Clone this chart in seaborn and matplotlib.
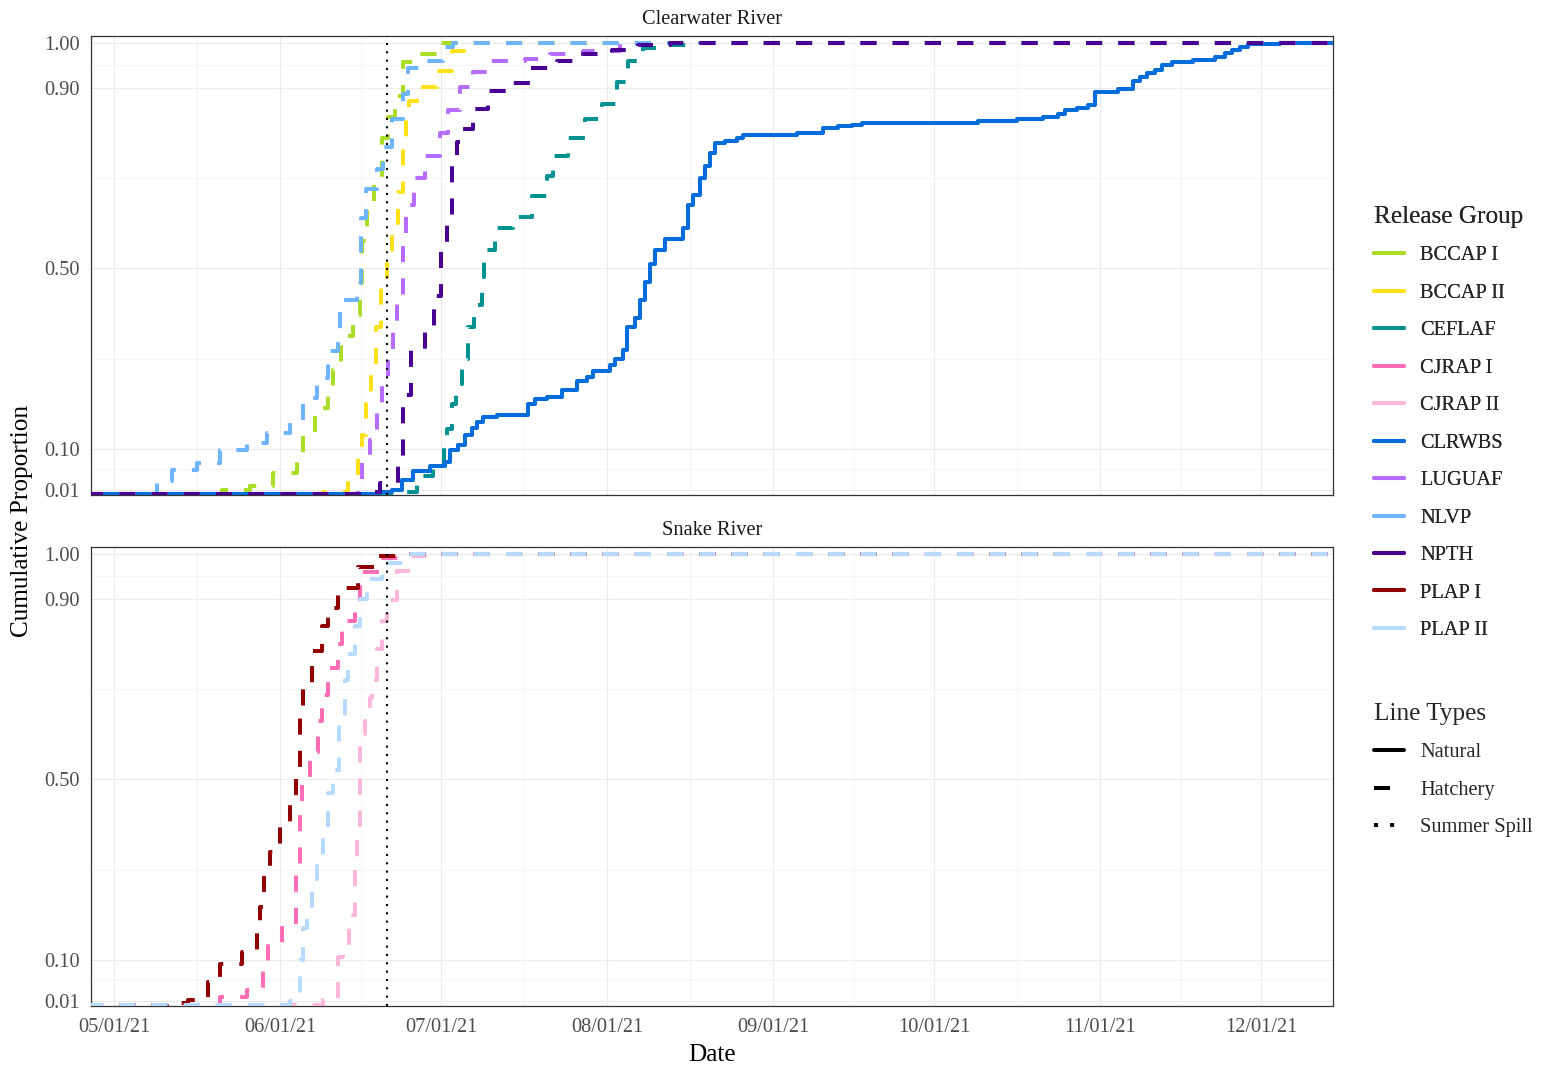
import numpy as np
import pandas as pd
import matplotlib
matplotlib.use("Agg")
import matplotlib.pyplot as plt
import matplotlib.dates as mdates
from matplotlib.lines import Line2D
import seaborn as sns

sns.set_theme(style="white")
plt.rcParams["font.family"] = ["Liberation Serif", "DejaVu Serif"]

# ---- cumulative detection proportions by release group ----
bccap1_dates = ["05-21 04", "05-26 09", "05-30 16", "06-04 03", "06-05 06", "06-07 12", "06-09 22",
                "06-10 21", "06-12 08", "06-14 14", "06-15 22", "06-16 06", "06-17 05", "06-18 12",
                "06-20 00", "06-21 02", "06-22 10", "06-23 22", "06-27 02", "06-30 20"]
bccap1_prop = [0.01, 0.018, 0.047, 0.087, 0.136, 0.19, 0.23, 0.275, 0.35, 0.397, 0.467, 0.56, 0.64,
               0.695, 0.788, 0.836, 0.883, 0.958, 0.976, 1.0]

bccap2_dates = ["06-09 00", "06-13 16", "06-15 12", "06-16 06", "06-17 00", "06-17 23", "06-18 21",
                "06-19 19", "06-20 22", "06-21 21", "06-23 00", "06-23 22", "06-24 12", "06-25 01",
                "06-27 02", "06-30 06", "07-03 01", "07-06 01"]
bccap2_prop = [0.005, 0.032, 0.087, 0.13, 0.2, 0.28, 0.37, 0.46, 0.54, 0.6, 0.67, 0.78, 0.83, 0.87,
               0.903, 0.938, 0.982, 1.0]

ceflaf_dates = ["06-23 09", "06-26 13", "06-29 12", "07-01 14", "07-02 03", "07-03 01", "07-03 19",
                "07-04 22", "07-06 01", "07-07 04", "07-08 16", "07-09 01", "07-11 02", "07-14 11",
                "07-18 00", "07-20 20", "07-21 22", "07-24 17", "07-27 21", "07-31 01", "08-02 20",
                "08-04 22", "08-07 17", "08-12 18", "08-18 08"]
ceflaf_prop = [0.005, 0.04, 0.057, 0.12, 0.145, 0.2, 0.245, 0.3, 0.37, 0.42, 0.48, 0.54, 0.59, 0.615,
               0.66, 0.705, 0.75, 0.788, 0.832, 0.865, 0.914, 0.96, 0.989, 0.994, 1.0]

clrwbs_dates = ["06-19 15", "06-21 21", "06-23 18", "06-25 19", "06-28 23", "07-01 18", "07-02 17",
                "07-04 04", "07-05 12", "07-06 19", "07-07 17", "07-08 20", "07-11 11", "07-17 06",
                "07-18 13", "07-20 19", "07-23 14", "07-26 09", "07-28 06", "07-29 09", "08-01 13",
                "08-02 11", "08-03 23", "08-04 17", "08-06 05", "08-07 03", "08-08 02", "08-09 00",
                "08-09 22", "08-11 19", "08-15 04", "08-16 02", "08-17 00", "08-18 08", "08-19 06",
                "08-20 05", "08-21 03", "08-23 00", "08-25 06", "08-26 08", "09-05 10", "09-10 07",
                "09-13 02", "09-15 17", "09-17 13", "10-09 05", "10-16 11", "10-21 08", "10-24 03",
                "10-25 10", "10-27 16", "10-29 17", "10-31 00", "11-04 07", "11-07 03", "11-08 10",
                "11-09 17", "11-11 05", "11-12 12", "11-14 09", "11-18 07", "11-22 10", "11-24 07",
                "11-25 14", "11-27 02", "11-28 14", "12-04 13"]
clrwbs_prop = [0.005, 0.01, 0.032, 0.052, 0.063, 0.072, 0.097, 0.108, 0.13, 0.147, 0.16, 0.17, 0.175,
               0.2, 0.21, 0.215, 0.23, 0.25, 0.26, 0.273, 0.285, 0.30, 0.32, 0.37, 0.39, 0.43, 0.47,
               0.51, 0.54, 0.565, 0.59, 0.64, 0.662, 0.70, 0.726, 0.755, 0.777, 0.783, 0.79, 0.795,
               0.80, 0.812, 0.816, 0.818, 0.823, 0.826, 0.832, 0.836, 0.843, 0.85, 0.856, 0.863,
               0.89, 0.898, 0.916, 0.925, 0.934, 0.94, 0.95, 0.958, 0.962, 0.969, 0.978, 0.985,
               0.991, 0.998, 1.0]

luguaf_dates = ["06-15 12", "06-16 06", "06-17 18", "06-19 02", "06-20 00", "06-21 03", "06-22 01",
                "06-22 19", "06-23 22", "06-24 12", "06-25 23", "06-28 00", "06-30 20", "07-02 07",
                "07-04 13", "07-07 00", "07-10 04", "07-16 16", "07-21 08", "07-27 12", "08-03 10"]
luguaf_prop = [0.02, 0.08, 0.12, 0.2, 0.25, 0.31, 0.37, 0.44, 0.57, 0.64, 0.70, 0.75, 0.80, 0.85,
               0.903, 0.936, 0.96, 0.963, 0.976, 0.982, 1.0]

nlvp_dates = ["05-09 00", "05-11 18", "05-16 12", "05-20 18", "05-25 19", "05-29 12", "06-02 20",
              "06-05 06", "06-07 21", "06-09 22", "06-11 19", "06-12 04", "06-15 08", "06-16 02",
              "06-17 00", "06-19 02", "06-20 05", "06-21 21", "06-23 22", "06-24 20", "06-28 10",
              "07-01 09", "07-03 06"]
nlvp_prop = [0.03, 0.054, 0.07, 0.098, 0.114, 0.136, 0.162, 0.213, 0.258, 0.318, 0.357, 0.43, 0.467,
             0.611, 0.677, 0.72, 0.77, 0.83, 0.887, 0.943, 0.96, 0.99, 1.0]

npth_dates = ["06-16 20", "06-19 15", "06-23 00", "06-23 22", "06-25 10", "06-28 00", "06-29 17",
              "07-01 00", "07-02 03", "07-03 01", "07-04 00", "07-05 03", "07-07 00", "07-09 19",
              "07-14 06", "07-17 15", "07-22 16", "07-27 12", "08-01 22", "08-06 18", "08-12 18"]
npth_prop = [0.005, 0.025, 0.07, 0.22, 0.32, 0.37, 0.44, 0.54, 0.6, 0.74, 0.78, 0.81, 0.854, 0.894,
             0.91, 0.943, 0.96, 0.976, 0.985, 0.996, 1.0]

plap1_dates = ["05-10 21", "05-14 19", "05-18 13", "05-20 19", "05-24 21", "05-27 16", "05-28 06",
               "05-29 00", "05-30 02", "05-31 23", "06-02 20", "06-03 23", "06-04 17", "06-05 06",
               "06-06 23", "06-08 19", "06-09 22", "06-11 19", "06-15 12", "06-18 17", "06-23 18"]
plap1_prop = [0.005, 0.012, 0.052, 0.092, 0.118, 0.16, 0.218, 0.306, 0.339, 0.40, 0.45, 0.52, 0.65,
              0.71, 0.785, 0.84, 0.88, 0.925, 0.97, 0.995, 1.0]

cjrap1_dates = ["05-20 19", "05-25 19", "05-28 19", "05-29 18", "06-01 08", "06-03 23", "06-04 17",
                "06-05 02", "06-06 14", "06-08 01", "06-08 19", "06-09 22", "06-11 19", "06-12 13",
                "06-14 23", "06-15 22", "06-19 15", "06-23 18"]
cjrap1_prop = [0.019, 0.034, 0.08, 0.13, 0.18, 0.3, 0.45, 0.505, 0.56, 0.63, 0.686, 0.748, 0.80, 0.85,
               0.9, 0.96, 0.99, 1.0]

plap2_dates = ["06-02 20", "06-04 17", "06-05 06", "06-06 00", "06-06 23", "06-07 21", "06-09 00",
               "06-09 22", "06-10 21", "06-12 00", "06-13 02", "06-13 16", "06-14 23", "06-15 22",
               "06-17 05", "06-20 00", "06-24 16"]
plap2_prop = [0.01, 0.1, 0.17, 0.22, 0.28, 0.32, 0.39, 0.47, 0.52, 0.64, 0.72, 0.777, 0.84, 0.90,
              0.943, 0.98, 1.0]

cjrap2_dates = ["06-09 00", "06-11 19", "06-12 17", "06-13 20", "06-14 23", "06-15 08", "06-15 22",
                "06-16 20", "06-17 18", "06-18 03", "06-19 02", "06-20 00", "06-20 22", "06-22 19",
                "06-24 20", "06-28 00"]
cjrap2_prop = [0.012, 0.107, 0.13, 0.2, 0.32, 0.4, 0.6, 0.63, 0.68, 0.72, 0.79, 0.85, 0.898, 0.962,
               0.995, 1.0]

groups = ["BCCAP I", "BCCAP II", "CEFLAF", "CJRAP I", "CJRAP II", "CLRWBS",
          "LUGUAF", "NLVP", "NPTH", "PLAP I", "PLAP II"]
colors = ["#AADC28", "#FFE11A", "#009292", "#FF6DB6", "#FFB6DB", "#006DDB",
          "#B66DFF", "#6DB6FF", "#490092", "#920000", "#B6DBFF"]
rivers = ["Clearwater River", "Clearwater River", "Clearwater River", "Snake River", "Snake River",
          "Clearwater River", "Clearwater River", "Clearwater River", "Clearwater River",
          "Snake River", "Snake River"]
origins = ["Hatchery", "Hatchery", "Hatchery", "Hatchery", "Hatchery", "Natural",
           "Hatchery", "Hatchery", "Hatchery", "Hatchery", "Hatchery"]
series_dates = [bccap1_dates, bccap2_dates, ceflaf_dates, cjrap1_dates, cjrap2_dates, clrwbs_dates,
                luguaf_dates, nlvp_dates, npth_dates, plap1_dates, plap2_dates]
series_prop = [bccap1_prop, bccap2_prop, ceflaf_prop, cjrap1_prop, cjrap2_prop, clrwbs_prop,
               luguaf_prop, nlvp_prop, npth_prop, plap1_prop, plap2_prop]

window_start = "04-26 00"
window_end = "12-16 00"
spill_date = "2021-06-21"
month_breaks = ["2021-05-01", "2021-06-01", "2021-07-01", "2021-08-01",
                "2021-09-01", "2021-10-01", "2021-11-01", "2021-12-01"]
y_breaks = [0.01, 0.10, 0.50, 0.90, 1.00]
y_labels = ["0.01", "0.10", "0.50", "0.90", "1.00"]

frames = []
for g, r, o, d, p in zip(groups, rivers, origins, series_dates, series_prop):
    dd = [window_start] + d + [window_end]
    pp = [0.0] + p + [1.0]
    frames.append(pd.DataFrame({
        "date": pd.to_datetime(["2021-" + s for s in dd], format="%Y-%m-%d %H"),
        "prop": pp, "group": g, "river": r, "origin": o}))
df = pd.concat(frames, ignore_index=True)
palette = dict(zip(groups, colors))

LW = 2.9
dash_map = {"Natural": "", "Hatchery": (4, 4)}

W, H = 1543, 1068
fig = plt.figure(figsize=(W / 100, H / 100), dpi=100)
panel_tops = [36, 547]
panel_h = 459
left_px, right_px = 91, 1333

xmin = pd.Timestamp("2021-04-26 17:00")
xmax = pd.Timestamp("2021-12-14 10:00")
major_num = mdates.date2num(pd.to_datetime(month_breaks))
minor_num = (major_num[:-1] + major_num[1:]) / 2
y_minor = [(a + b) / 2 for a, b in zip(y_breaks[:-1], y_breaks[1:])]

axes = []
for i, river in enumerate(["Clearwater River", "Snake River"]):
    top = panel_tops[i]
    ax = fig.add_axes([left_px / W, 1 - (top + panel_h) / H, (right_px - left_px) / W, panel_h / H])
    axes.append(ax)
    sub = df[df["river"] == river]
    order = [g for g in groups if g in set(sub["group"])]
    sns.lineplot(data=sub, x="date", y="prop", hue="group", hue_order=order, palette=palette,
                 style="origin", dashes=dash_map, estimator=None, sort=False,
                 drawstyle="steps-post", linewidth=LW, legend=False, ax=ax, zorder=3)
    ax.axvline(pd.Timestamp(spill_date), color="black", lw=1.5, ls=(0, (1, 3)), zorder=4)

    ax.set_xlim(xmin, xmax)
    ax.set_ylim(-0.002, 1.015)
    ax.set_xticks(major_num)
    ax.set_xticks(minor_num, minor=True)
    ax.xaxis.set_major_formatter(mdates.DateFormatter("%m/%d/%y"))
    ax.set_yticks(y_breaks)
    ax.set_yticklabels(y_labels)
    ax.set_yticks(y_minor, minor=True)
    ax.grid(which="major", color="#EBEBEB", lw=0.85)
    ax.grid(which="minor", color="#F2F2F2", lw=0.5)
    ax.set_axisbelow(True)
    for sp in ax.spines.values():
        sp.set_color("#333333")
        sp.set_linewidth(0.9)
    ax.tick_params(axis="both", which="major", direction="out", length=3.6, width=0.8,
                   color="#333333", labelcolor="#4D4D4D", labelsize=14.7)
    ax.tick_params(axis="x", which="major", pad=5.2)
    ax.tick_params(axis="y", which="major", pad=4.6)
    ax.tick_params(axis="both", which="minor", length=0)
    ax.set_xlabel("")
    ax.set_ylabel("")
    ax.text(0.5, 1 + 17 / panel_h, river, transform=ax.transAxes, ha="center", va="center",
            fontsize=14.7, color="#1A1A1A")
    if i == 0:
        ax.tick_params(axis="x", which="both", labelbottom=False, length=0)

fig.text(22 / W, 1 - 521 / H, "Cumulative Proportion", rotation=90, ha="center", va="center",
         fontsize=18.2, color="black")
fig.text(712 / W, 1 - 1055 / H, "Date", ha="center", va="center", fontsize=18.2, color="black")

# legends
group_handles = [Line2D([], [], color=palette[g], lw=LW) for g in groups]
leg1 = fig.legend(group_handles, groups, title="Release Group", loc="upper left",
                  bbox_to_anchor=(1374 / W, 1 - 206 / H), frameon=False, fontsize=14.7,
                  title_fontsize=18.2, handlelength=1.47, handletextpad=0.8,
                  labelspacing=0.89, borderpad=0, borderaxespad=0, alignment="left")
type_handles = [Line2D([], [], color="black", lw=LW),
                Line2D([], [], color="black", lw=LW, dashes=(4, 4)),
                Line2D([], [], color="black", lw=LW, dashes=(1, 3))]
leg2 = fig.legend(type_handles, ["Natural", "Hatchery", "Summer Spill"], title="Line Types",
                  loc="upper left", bbox_to_anchor=(1374 / W, 1 - 703 / H), frameon=False,
                  fontsize=14.7, title_fontsize=18.2, handlelength=1.47, handletextpad=0.8,
                  labelspacing=0.89, borderpad=0, borderaxespad=0, alignment="left")
fig.add_artist(leg1)

fig.savefig("out.png", dpi=100, facecolor="white")
